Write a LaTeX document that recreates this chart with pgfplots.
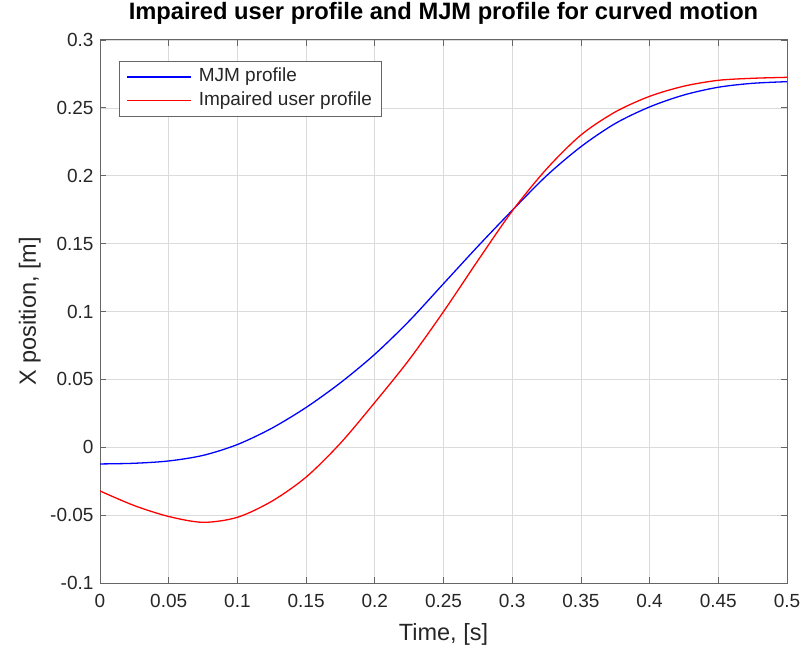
\documentclass[border=0pt]{standalone}
\usepackage{fontspec}
\setmainfont{Liberation Sans}
\usepackage{pgfplots}
\usepackage{pgfplotstable}
\pgfplotsset{compat=1.18}

\definecolor{axgray}{gray}{0.40}
\definecolor{txtgray}{gray}{0.15}
\definecolor{gridgray}{gray}{0.86}
\definecolor{mjmblue}{rgb}{0,0,1}
\definecolor{impred}{rgb}{1,0,0}

% minimum-jerk reference trajectory
\pgfplotstableread{
t      x
0.000 -0.0123
0.025 -0.0118
0.050 -0.0101
0.075 -0.0060
0.100  0.0020
0.125  0.0140
0.150  0.0293
0.175  0.0475
0.200  0.0685
0.225  0.0930
0.250  0.1205
0.275  0.1480
0.300  0.1745
0.325  0.2000
0.350  0.2214
0.375  0.2385
0.400  0.2507
0.425  0.2595
0.450  0.2652
0.475  0.2681
0.500  0.2693
}\mjm

% measured trajectory of the impaired user
\pgfplotstableread{
t      x
0.000 -0.0322
0.025 -0.0430
0.050 -0.0510
0.075 -0.0553
0.100 -0.0516
0.125 -0.0398
0.150 -0.0220
0.175  0.0030
0.200  0.0330
0.225  0.0645
0.250  0.0999
0.275  0.1375
0.300  0.1740
0.325  0.2050
0.350  0.2300
0.375  0.2470
0.400  0.2585
0.425  0.2660
0.450  0.2703
0.475  0.2718
0.500  0.2725
}\impaired

\begin{document}
\begin{tikzpicture}
\path[use as bounding box] (0,0) rectangle (805bp,650bp);
\begin{axis}[
  at={(100bp,67bp)}, anchor=south west,
  scale only axis, width=687bp, height=543bp,
  xmin=0, xmax=0.5, ymin=-0.1, ymax=0.3,
  xtick={0,0.05,0.1,0.15,0.2,0.25,0.3,0.35,0.4,0.45,0.5},
  xticklabels={0,0.05,0.1,0.15,0.2,0.25,0.3,0.35,0.4,0.45,0.5},
  ytick={-0.1,-0.05,0,0.05,0.1,0.15,0.2,0.25,0.3},
  yticklabels={-0.1,-0.05,0,0.05,0.1,0.15,0.2,0.25,0.3},
  tick align=inside, tick pos=both,
  major tick length=6bp,
  every tick/.style={axgray, line width=0.8bp},
  axis line style={axgray, line width=1bp},
  grid=major,
  major grid style={gridgray, line width=0.7bp},
  ticklabel style={font=\fontsize{19bp}{22bp}\selectfont, text=txtgray},
  xticklabel style={yshift=-8bp},
  yticklabel style={xshift=-3bp},
  xlabel={Time, [s]},
  ylabel={X position, [m]},
  label style={font=\fontsize{23.5bp}{26bp}\selectfont, text=txtgray},
  xlabel style={at={(axis description cs:0.5,-0.105)}, anchor=base},
  ylabel style={at={(axis description cs:-0.0932,0.5)}, anchor=base},
  title={Impaired user profile and MJM profile for curved motion},
  title style={font=\fontsize{23.7bp}{27bp}\selectfont\bfseries, text=black,
    at={(axis description cs:0.5,1)}, anchor=base, yshift=15bp},
  legend cell align=left,
  legend image code/.code={\draw[#1, line width=1.3bp] (0bp,0bp) -- (64bp,0bp);},
  legend style={at={(axis description cs:0.0277,0.9613)}, anchor=north west,
    draw=axgray, line width=0.9bp, fill=white,
    font=\fontsize{19bp}{22bp}\selectfont, text=txtgray,
    inner xsep=7bp, inner ysep=4bp, row sep=0bp,
    nodes={inner sep=2bp, text height=14.5bp, text depth=4.8bp},
    /tikz/every odd column/.style={column sep=5bp}},
]
\addplot[mjmblue, line width=1.3bp, smooth] table[x=t, y=x] {\mjm};
\addlegendentry{MJM profile}
\addplot[impred, line width=1.3bp, smooth] table[x=t, y=x] {\impaired};
\addlegendentry{Impaired user profile}
\end{axis}
\end{tikzpicture}
\end{document}
